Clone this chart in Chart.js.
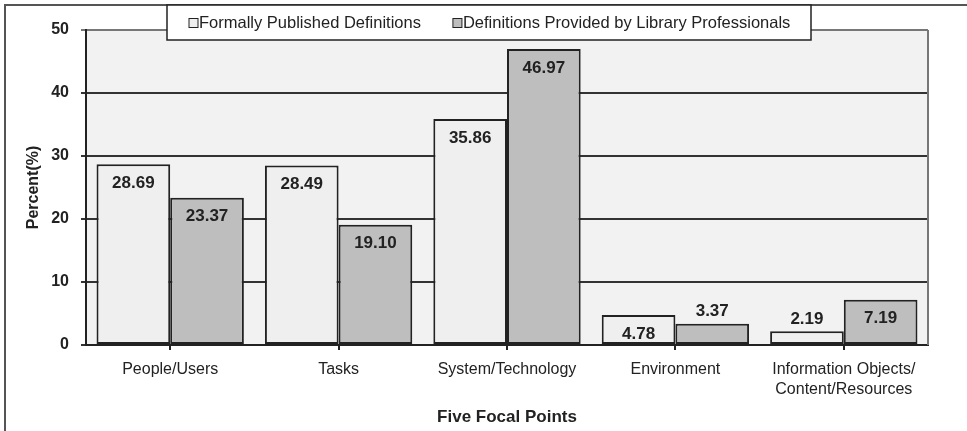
<!DOCTYPE html>
<html>
<head>
<meta charset="utf-8">
<script src="https://cdn.jsdelivr.net/npm/chart.js@4.4.1/dist/chart.umd.min.js"></script>
<style>
  body { margin: 0; background: #fff; }
  #wrap { width: 967px; height: 431px; }
</style>
</head>
<body>
<div id="wrap"><canvas id="canvas"></canvas></div>
<script>
/* date */
const focalPoints = ['People/Users', 'Tasks', 'System/Technology', 'Environment', ['Information Objects/', 'Content/Resources']];
const formallyPublished = [28.69, 28.49, 35.86, 4.78, 2.19];
const libraryProfessionals = [23.37, 19.10, 46.97, 3.37, 7.19];
const seriesNames = ['Formally Published Definitions', 'Definitions Provided by Library Professionals'];

const textColor = '#222';

/* fundal, chenar, legenda si etichete */
const decor = {
    id: 'decor',
    beforeDraw(chart) {
        const c = chart.ctx;
        const a = chart.chartArea;
        c.save();
        c.fillStyle = '#fff';
        c.fillRect(0, 0, chart.width, chart.height);
        c.fillStyle = '#f2f2f2';
        c.fillRect(a.left, a.top, a.right - a.left, a.bottom - a.top);
        // chenar exterior
        c.strokeStyle = '#555';
        c.lineWidth = 2;
        c.beginPath();
        c.moveTo(5, chart.height);
        c.lineTo(5, 5);
        c.lineTo(chart.width, 5);
        c.stroke();
        c.restore();
    },
    afterDatasetsDraw(chart) {
        const c = chart.ctx;
        const a = chart.chartArea;
        c.save();
        c.strokeStyle = '#777';
        c.lineWidth = 2;
        c.beginPath();
        c.moveTo(a.right, a.bottom);
        c.lineTo(a.right, a.top);
        c.stroke();

        c.font = 'bold 17px "Liberation Sans", Arial, sans-serif';
        c.fillStyle = textColor;
        c.textAlign = 'center';
        c.textBaseline = 'middle';
        chart.data.datasets.forEach(function(ds, i) {
            chart.getDatasetMeta(i).data.forEach(function(bar, j) {
                const h = bar.base - bar.y;
                const y = h > 28 ? bar.y + 19 : bar.y - 12;
                c.fillText(ds.data[j].toFixed(2), bar.x, y);
            });
        });
        c.restore();
    },
    afterDraw(chart) {
        const c = chart.ctx;
        c.save();
        const left = 167, right = 811, top = 5, bottom = 40;
        c.fillStyle = '#fff';
        c.fillRect(left, top, right - left, bottom - top);
        c.strokeStyle = '#222';
        c.lineWidth = 1.5;
        c.strokeRect(left, top, right - left, bottom - top);
        c.font = '16.5px "Liberation Sans", Arial, sans-serif';
        c.textBaseline = 'middle';
        c.textAlign = 'left';
        let x = left + 22;
        const cy = 23;
        chart.data.datasets.forEach(function(ds) {
            c.fillStyle = ds.backgroundColor;
            c.fillRect(x, cy - 4.5, 9, 9);
            c.strokeStyle = '#222';
            c.lineWidth = 1;
            c.strokeRect(x, cy - 4.5, 9, 9);
            c.fillStyle = textColor;
            c.fillText(ds.label, x + 10, cy);
            x += 10 + c.measureText(ds.label).width + 32;
        });
        c.restore();
    }
};

const ctx = document.getElementById('canvas');
new Chart(ctx, {
    type: 'bar',
    data: {
        labels: focalPoints,
        datasets: [{
            label: seriesNames[0],
            data: formallyPublished,
            backgroundColor: '#efefef',
            borderColor: '#222',
            borderWidth: 2,
            borderSkipped: false
        },
        {
            label: seriesNames[1],
            data: libraryProfessionals,
            backgroundColor: '#bebebe',
            borderColor: '#222',
            borderWidth: 2,
            borderSkipped: false
        }]
    },
    options: {
        responsive: true,
        maintainAspectRatio: false,
        animation: false,
        events: [],
        layout: {
            padding: { top: 30, right: 39, left: 0, bottom: 0 }
        },
        datasets: {
            bar: { categoryPercentage: 0.875, barPercentage: 1 }
        },
        plugins: {
            legend: { display: false },
            tooltip: { enabled: false }
        },
        scales: {
            x: {
                grid: { display: true, drawOnChartArea: false, offset: false, tickLength: 5, color: '#222', lineWidth: 2 },
                border: { color: '#222', width: 2 },
                ticks: {
                    color: textColor,
                    padding: 10,
                    maxRotation: 0,
                    autoSkip: false,
                    font: { family: '"Liberation Sans", Arial, sans-serif', size: 16, lineHeight: 1.25 }
                },
                title: {
                    display: true,
                    text: 'Five Focal Points',
                    color: textColor,
                    padding: { top: 0, bottom: 3 },
                    font: { family: '"Liberation Sans", Arial, sans-serif', size: 17, weight: 'bold' }
                },
                afterFit: function(scale) { scale.height = 86; }
            },
            y: {
                min: 0,
                max: 50,
                grid: {
                    tickLength: 5,
                    lineWidth: 2,
                    color: function(c) { return c.tick && c.tick.value === 50 ? '#777' : '#333'; }
                },
                border: { color: '#222', width: 2 },
                ticks: {
                    stepSize: 10,
                    color: textColor,
                    padding: 12,
                    font: { family: '"Liberation Sans", Arial, sans-serif', size: 16, weight: 'bold' }
                },
                title: {
                    display: true,
                    text: 'Percent(%)',
                    color: textColor,
                    padding: { top: 24, bottom: 0 },
                    font: { family: '"Liberation Sans", Arial, sans-serif', size: 16, weight: 'bold' }
                },
                afterFit: function(scale) { scale.width = 86; }
            }
        }
    },
    plugins: [decor]
});
</script>
</body>
</html>
